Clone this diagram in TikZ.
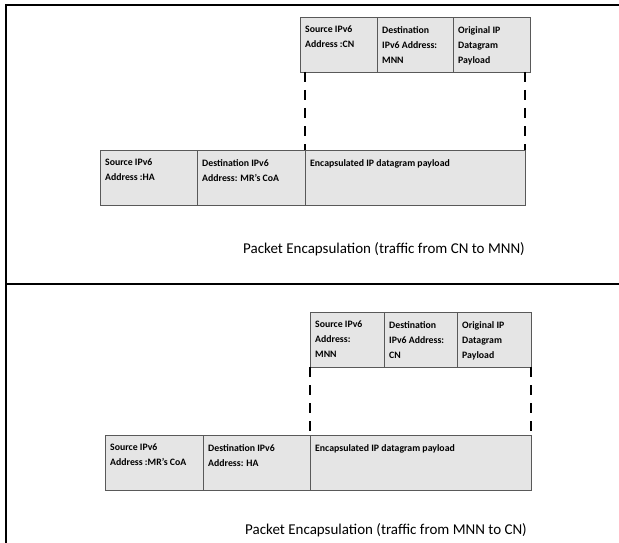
\documentclass[tikz,border=0pt]{standalone}
\usepackage{fontspec}
\setmainfont{Carlito}
\usetikzlibrary{positioning}
\tikzset{
  cell/.style={
    rectangle,
    draw=black!65,
    fill=black!10,
    line width=0.8pt,
    minimum height=55pt,
    inner sep=0pt,
    outer sep=0pt},
  celltext/.style={
    font=\bfseries\fontsize{9.8}{15}\selectfont,
    align=left,
    anchor=north west,
    inner sep=0pt,
    xshift=5pt, yshift=-9pt},
  frame/.style={line width=2pt},
  tunnel/.style={line width=1.6pt, dash pattern=on 10pt off 8pt},
  caption/.style={font=\fontsize{15}{18}\selectfont},
}

\begin{document}
\begin{tikzpicture}[x=1pt, y=-1pt, node distance=0pt]
  \useasboundingbox (0,0) rectangle (619,543);
  % frame of the page
  \coordinate (tl) at (6,5);
  \coordinate (tr) at (619,5);
  \coordinate (bl) at (6,543);
  \coordinate (ml) at (6,284);
  \coordinate (mr) at (619,284);
  \draw[frame] (tr) -- (tl) -- (bl);
  \draw[frame] (ml) -- (mr);

  %% upper panel: traffic from CN to MNN
  \node (inSrcA) [cell, minimum width=77pt, anchor=north west] at (300,17) {};
  \node (inDstA) [cell, minimum width=76pt, right=of inSrcA] {};
  \node (inPayA) [cell, minimum width=77pt, right=of inDstA] {};
  \node[celltext] (inSrcAt) at (inSrcA.north west) {Source IPv6\\Address :CN};
  \node[celltext] (inDstAt) at (inDstA.north west) {Destination\\IPv6 Address:\\MNN};
  \node[celltext] (inPayAt) at (inPayA.north west) {Original IP\\Datagram\\Payload};

  \node (outSrcA) [cell, minimum width=97pt, anchor=north west] at (100,150) {};
  \node (outDstA) [cell, minimum width=108pt, right=of outSrcA] {};
  \node (encA) [cell, minimum width=220pt, right=of outDstA] {};
  \node[celltext] (outSrcAt) at (outSrcA.north west) {Source IPv6\\Address :HA};
  \node[celltext] (outDstAt) at (outDstA.north west) {Destination IPv6\\Address: MR’s CoA};
  \node[celltext] (encAt) at (encA.north west) {Encapsulated IP datagram payload};

  \draw[tunnel] (encA.north west |- inSrcA.south) -- (encA.north west);
  \draw[tunnel] (encA.north east |- inSrcA.south) -- (encA.north east);

  \node[caption] (capA) at (384,249) {Packet Encapsulation (traffic from CN to MNN)};

  %% lower panel: traffic from MNN to CN
  \node (inSrcB) [cell, minimum width=74pt, anchor=north west] at (310,312) {};
  \node (inDstB) [cell, minimum width=73pt, right=of inSrcB] {};
  \node (inPayB) [cell, minimum width=74pt, right=of inDstB] {};
  \node[celltext] (inSrcBt) at (inSrcB.north west) {Source IPv6\\Address:\\MNN};
  \node[celltext] (inDstBt) at (inDstB.north west) {Destination\\IPv6 Address:\\CN};
  \node[celltext] (inPayBt) at (inPayB.north west) {Original IP\\Datagram\\Payload};

  \node (outSrcB) [cell, minimum width=98pt, anchor=north west] at (105,435) {};
  \node (outDstB) [cell, minimum width=107pt, right=of outSrcB] {};
  \node (encB) [cell, minimum width=221pt, right=of outDstB] {};
  \node[celltext] (outSrcBt) at (outSrcB.north west) {Source IPv6\\Address :MR’s CoA};
  \node[celltext] (outDstBt) at (outDstB.north west) {Destination IPv6\\Address: HA};
  \node[celltext] (encBt) at (encB.north west) {Encapsulated IP datagram payload};

  \draw[tunnel] (encB.north west |- inSrcB.south) -- (encB.north west);
  \draw[tunnel] (encB.north east |- inSrcB.south) -- (encB.north east);

  \node[caption] (capB) at (386,530) {Packet Encapsulation (traffic from MNN to CN)};
\end{tikzpicture}
\end{document}
